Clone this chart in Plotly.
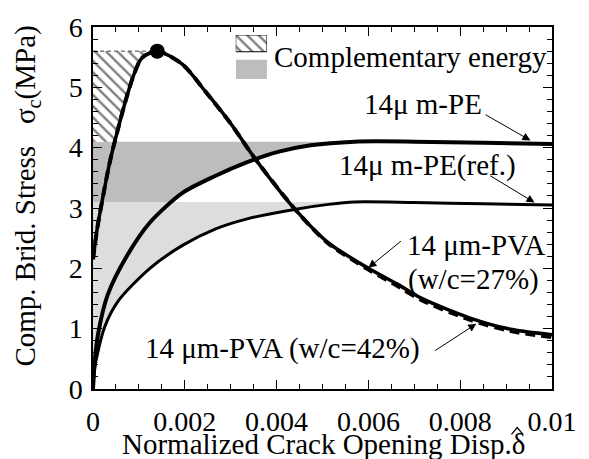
import numpy as np
import plotly.graph_objects as go

# ---------------- data ----------------
# 14 um-PVA (w/c=27%) - solid
pva27_x = [0.0, 0.00009, 0.00022, 0.00036, 0.0005, 0.0007, 0.00089, 0.00107, 0.0014,
           0.00195, 0.00244, 0.0030, 0.0035, 0.0044, 0.0051, 0.0060, 0.00665, 0.00714,
           0.0082, 0.0091, 0.0100]
pva27_y = [2.15, 2.65, 3.2, 3.74, 4.18, 4.75, 5.21, 5.49, 5.6,
           5.38, 4.94, 4.40, 3.85, 2.98, 2.44, 2.0, 1.73, 1.51,
           1.18, 0.99, 0.9]
# 14 um-PVA (w/c=42%) - dashed
pva42_x = [0.0, 0.00009, 0.00022, 0.00036, 0.0005, 0.0007, 0.00089, 0.00107, 0.0014,
           0.00195, 0.00244, 0.0030, 0.0035, 0.0044, 0.0051, 0.0060, 0.00665, 0.00714,
           0.0082, 0.0091, 0.0100]
pva42_y = [2.15, 2.65, 3.2, 3.74, 4.18, 4.75, 5.21, 5.49, 5.6,
           5.38, 4.94, 4.40, 3.85, 2.98, 2.43, 1.98, 1.70, 1.48,
           1.15, 0.96, 0.86]
# 14 um-PE
pe_x = [0.0, 0.00004, 0.00011, 0.00032, 0.00075, 0.00124, 0.00195, 0.00266, 0.00336,
        0.00403, 0.00474, 0.0057, 0.0070, 0.0085, 0.0100]
pe_y = [0.0, 0.47, 0.91, 1.56, 2.22, 2.76, 3.25, 3.53, 3.76,
        3.93, 4.04, 4.1, 4.1, 4.08, 4.06]
# 14 um-PE (ref.)
peref_x = [0.0, 0.00004, 0.00025, 0.00054, 0.00124, 0.00195, 0.00266, 0.00336, 0.00442,
           0.00513, 0.0057, 0.0070, 0.0085, 0.0100]
peref_y = [0.0, 0.36, 1.02, 1.45, 2.0, 2.38, 2.65, 2.82, 2.98,
           3.06, 3.1, 3.09, 3.07, 3.05]

peak_pt = (0.0014, 5.6)           # filled dot
pe_pt = (0.0057, 4.1)             # open circle on PE
peref_pt = (0.0057, 3.1)          # open circle on PE(ref.)

x_tickvals = [0, 0.002, 0.004, 0.006, 0.008, 0.01]
x_ticktext = ["0", "0.002", "0.004", "0.006", "0.008", "0.01"]
y_tickvals = [0, 1, 2, 3, 4, 5, 6]
y_ticktext = ["0", "1", "2", "3", "4", "5", "6"]

FONT = "Liberation Serif, Times New Roman, Times, serif"

# ---------------- helper polygons built from the curves ----------------
def left_region(xs, ys, ylo, yhi, xcut):
    xs = np.asarray(xs); ys = np.asarray(ys)
    m = xs <= xcut + 1e-12
    xa, ya = xs[m], ys[m]
    x_lo = np.interp(ylo, ya, xa)
    x_hi = np.interp(yhi, ya, xa)
    sel = (ya > ylo) & (ya < yhi)
    px = [0, x_lo] + list(xa[sel]) + [x_hi, 0, 0]
    py = [ylo, ylo] + list(ya[sel]) + [yhi, yhi, ylo]
    return px, py

fig = go.Figure()

# light gray: complementary energy of PE(ref.)
lx, ly = left_region(peref_x, peref_y, 0.0, peref_pt[1], peref_pt[0])
fig.add_trace(go.Scatter(x=lx, y=ly, fill="toself", fillcolor="#dcdedd",
                         line=dict(width=0), mode="lines", hoverinfo="skip", showlegend=False))
# dark gray: PE
dx, dy = left_region(pe_x, pe_y, peref_pt[1], pe_pt[1], pe_pt[0])
fig.add_trace(go.Scatter(x=dx, y=dy, fill="toself", fillcolor="#bdbdbd",
                         line=dict(width=0), mode="lines", hoverinfo="skip", showlegend=False))
# hatched: PVA
hx, hy = left_region(pva27_x, pva27_y, pe_pt[1], peak_pt[1], peak_pt[0])
HATCH = dict(shape="\\", fgcolor="black", bgcolor="white", size=8, solidity=0.3)
fig.add_trace(go.Scatter(x=hx, y=hy, fill="toself", fillcolor="white", fillpattern=HATCH,
                         line=dict(width=0), mode="lines", hoverinfo="skip", showlegend=False))
# dashed top line of hatched region
fig.add_trace(go.Scatter(x=[0, peak_pt[0]], y=[peak_pt[1], peak_pt[1]], mode="lines",
                         line=dict(color="#444", width=1, dash="4px,3px"),
                         hoverinfo="skip", showlegend=False))

# curves
SPL = dict(shape="spline", smoothing=0.8)
fig.add_trace(go.Scatter(x=pva42_x, y=pva42_y, mode="lines",
                         line=dict(color="black", width=4, dash="10px,6px", **SPL), showlegend=False))
fig.add_trace(go.Scatter(x=pva27_x, y=pva27_y, mode="lines",
                         line=dict(color="black", width=3.5, **SPL), showlegend=False))
fig.add_trace(go.Scatter(x=pe_x, y=pe_y, mode="lines",
                         line=dict(color="black", width=4, **SPL), showlegend=False))
fig.add_trace(go.Scatter(x=peref_x, y=peref_y, mode="lines",
                         line=dict(color="black", width=3, **SPL), showlegend=False))

# markers
fig.add_trace(go.Scatter(x=[peak_pt[0]], y=[peak_pt[1]], mode="markers",
                         marker=dict(size=15, color="black"), showlegend=False))
fig.add_trace(go.Scatter(x=[pe_pt[0], peref_pt[0]], y=[pe_pt[1], peref_pt[1]], mode="markers",
                         marker=dict(size=15, color="rgba(0,0,0,0)", symbol="circle-open",
                                     line=dict(color="black", width=1.3)), showlegend=False))

# legend swatches on an overlay axis pair
fig.add_trace(go.Scatter(x=[0, 1, 1, 0, 0], y=[0.62, 0.62, 1, 1, 0.62], xaxis="x2", yaxis="y2",
                         fill="toself", fillcolor="white", fillpattern=HATCH,
                         line=dict(color="black", width=1), mode="lines",
                         hoverinfo="skip", showlegend=False))
fig.add_trace(go.Scatter(x=[0, 1, 1, 0, 0], y=[0, 0, 0.44, 0.44, 0], xaxis="x2", yaxis="y2",
                         fill="toself", fillcolor="#bdbdbd", line=dict(width=0), mode="lines",
                         hoverinfo="skip", showlegend=False))

axis_common = dict(showline=True, linecolor="black", linewidth=1.5, mirror="ticks",
                   ticks="inside", tickcolor="black", tickwidth=1.2, showgrid=False,
                   zeroline=False, ticklabeloverflow="allow",
                   tickfont=dict(family=FONT, size=28, color="black"))

fig.update_layout(
    width=589, height=459,
    margin=dict(l=93, r=24, t=22, b=70),
    paper_bgcolor="white", plot_bgcolor="white",
    font=dict(family=FONT, color="black"),
    xaxis=dict(range=[0, 0.01], tickvals=x_tickvals, ticktext=x_ticktext, ticklen=9,
               ticklabelstandoff=7,
               minor=dict(dtick=0.0005, ticklen=5, ticks="inside", tickcolor="black", tickwidth=1.2),
               **axis_common),
    yaxis=dict(range=[0, 6], tickvals=y_tickvals, ticktext=y_ticktext, ticklen=9,
               ticklabelstandoff=3,
               minor=dict(dtick=0.2, ticklen=5, ticks="inside", tickcolor="black", tickwidth=1.2),
               **axis_common),
    xaxis2=dict(domain=[0.311, 0.379], range=[0, 1], anchor="y2", visible=False, fixedrange=True),
    yaxis2=dict(domain=[0.856, 0.978], range=[0, 1], anchor="x2", visible=False, fixedrange=True),
    # circumflex (hat) over the delta of the x-axis title
    shapes=[dict(type="path", xref="paper", yref="paper",
                 path="M 0.9117,-0.1253 L 0.9242,-0.1063 L 0.9367,-0.1253",
                 line=dict(color="black", width=1.3))],
)

ann_font = dict(family=FONT, size=29, color="black")
annotations = [
    dict(text="Complementary energy", xref="paper", yref="paper", x=0.39, y=0.918,
         xanchor="left", yanchor="middle", showarrow=False, font=dict(family=FONT, size=29, color="black")),
    dict(text="14\u03bc m-PE", x=0.00718, y=4.72, showarrow=False, font=ann_font),
    dict(text="14\u03bc m-PE(ref.)", x=0.00729, y=3.71, showarrow=False, font=ann_font),
    dict(text="14 \u03bcm-PVA", x=0.00835, y=2.39, showarrow=False, font=ann_font),
    dict(text="(w/c=27%)", x=0.0083, y=1.81, showarrow=False, font=ann_font),
    dict(text="14 \u03bcm-PVA (w/c=42%)", x=0.00413, y=0.67, showarrow=False, font=ann_font),
    # arrows
    dict(x=0.00953, y=4.12, ax=0.00852, ay=4.56, axref="x", ayref="y", text="", showarrow=True,
         arrowhead=2, arrowsize=1.6, arrowwidth=1, arrowcolor="black"),
    dict(x=0.00962, y=3.09, ax=0.00862, ay=3.55, axref="x", ayref="y", text="", showarrow=True,
         arrowhead=2, arrowsize=1.6, arrowwidth=1, arrowcolor="black"),
    dict(x=0.0060, y=2.01, ax=0.00674, ay=2.47, axref="x", ayref="y", text="", showarrow=True,
         arrowhead=2, arrowsize=1.6, arrowwidth=1, arrowcolor="black"),
    dict(x=0.00835, y=1.08, ax=0.00742, ay=0.62, axref="x", ayref="y", text="", showarrow=True,
         arrowhead=2, arrowsize=1.6, arrowwidth=1, arrowcolor="black"),
    # axis titles
    dict(text="Normalized Crack Opening Disp.\u03b4",
         xref="paper", yref="paper",
         x=0.502, y=-0.152, xanchor="center", yanchor="middle", showarrow=False,
         font=dict(family=FONT, size=29, color="black")),
    dict(text="Comp. Brid. Stress   \u03c3<sub>c</sub>(MPa)", xref="paper", yref="paper",
         x=-0.144, y=0.534, xanchor="center", yanchor="middle", textangle=-90, showarrow=False,
         font=dict(family=FONT, size=29, color="black")),
]
fig.update_layout(annotations=annotations)

fig.write_html("out.html")
